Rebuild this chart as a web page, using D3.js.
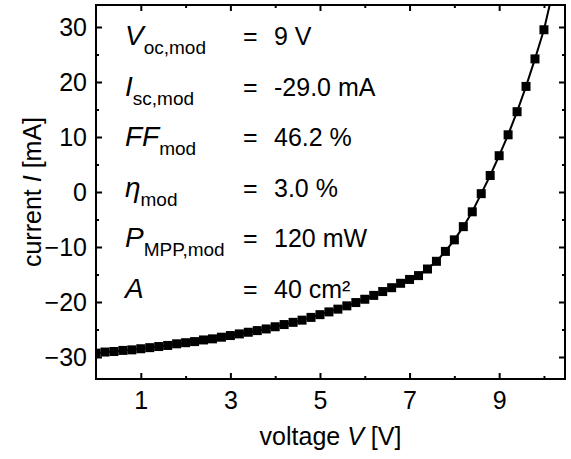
<!DOCTYPE html>
<html>
<head>
<meta charset="utf-8">
<script src="https://cdn.jsdelivr.net/npm/d3@7"></script>
<style>
  body { margin: 0; background: #fff; }
  text { font-family: "Liberation Sans", Arial, Helvetica, sans-serif; fill: #000; }
</style>
</head>
<body>
<div id="chart-area"></div>
<script>
// Data
var voltage = [0.0, 0.2, 0.4, 0.6, 0.8, 1.0, 1.2, 1.4, 1.6, 1.8,
               2.0, 2.2, 2.4, 2.6, 2.8, 3.0, 3.2, 3.4, 3.6, 3.8,
               4.0, 4.2, 4.4, 4.6, 4.8, 5.0, 5.2, 5.4, 5.6, 5.8,
               6.0, 6.2, 6.4, 6.6, 6.8, 7.0, 7.2, 7.4, 7.6, 7.8,
               8.0, 8.2, 8.4, 8.6, 8.8, 9.0, 9.2, 9.4, 9.6, 9.8, 10.0];
var current = [-29.3, -29.1, -29.0, -28.8, -28.7, -28.5, -28.3, -28.1, -27.9, -27.6,
               -27.4, -27.2, -26.9, -26.7, -26.4, -26.1, -25.8, -25.5, -25.2, -24.9,
               -24.5, -24.1, -23.7, -23.3, -22.8, -22.3, -21.8, -21.3, -20.7, -20.1,
               -19.5, -18.8, -18.1, -17.4, -16.6, -15.9, -15.2, -14.0, -12.6, -10.8,
               -8.7, -6.3, -3.6, -0.3, 3.0, 6.6, 10.4, 14.6, 19.2, 24.2, 29.5];
// fitted line continues past the last point, out of the frame
var fitTailV = [10.2];
var fitTailI = [36.5];

var xMajor = [1, 3, 5, 7, 9];
var xMinor = [2, 4, 6, 8, 10];
var yMajor = [-30, -20, -10, 0, 10, 20, 30];
var yMinor = [-25, -15, -5, 5, 15, 25];

var paramSymbols = ["V", "I", "FF", "\u03B7", "P", "A"];
var paramSubs = ["oc,mod", "sc,mod", "mod", "mod", "MPP,mod", ""];
var paramValues = ["9 V", "-29.0 mA", "46.2 %", "3.0 %", "120 mW", "40 cm\u00B2"];

var margin = {top: 5, right: 6, bottom: 80, left: 96},
    width = 571 - margin.left - margin.right,
    height = 459 - margin.top - margin.bottom;

var svg = d3.select("#chart-area").append("svg")
    .attr("width", width + margin.left + margin.right)
    .attr("height", height + margin.top + margin.bottom);

var g = svg.append("g")
    .attr("transform", "translate(" + margin.left + "," + margin.top + ")");

// Scales
var x = d3.scaleLinear().domain([0, 10.47]).range([0, width]);
var y = d3.scaleLinear().domain([-34, 34]).range([height, 0]);

g.append("clipPath").attr("id", "plot-clip")
    .append("rect").attr("width", width).attr("height", height);

// Axes (ticks point inward, mirrored on top/right)
function styleAxis(sel) {
    sel.select(".domain").remove();
    sel.selectAll("line").attr("stroke", "#000").attr("stroke-width", 2);
    sel.selectAll("text").attr("font-size", 25).attr("fill", "#000")
        .attr("font-family", "'Liberation Sans', Arial, sans-serif");
}

g.append("g").attr("transform", "translate(0," + height + ")")
    .call(d3.axisBottom(x).tickValues(xMajor).tickSizeInner(-6).tickPadding(12).tickFormat(d3.format("d")))
    .call(styleAxis);
g.append("g").attr("transform", "translate(0," + height + ")")
    .call(d3.axisBottom(x).tickValues(xMinor).tickSizeInner(-3).tickFormat(""))
    .call(styleAxis);
g.append("g")
    .call(d3.axisTop(x).tickValues(xMajor).tickSizeInner(-6).tickFormat(""))
    .call(styleAxis);
g.append("g")
    .call(d3.axisTop(x).tickValues(xMinor).tickSizeInner(-3).tickFormat(""))
    .call(styleAxis);

g.append("g")
    .call(d3.axisLeft(y).tickValues(yMajor).tickSizeInner(-6).tickPadding(9).tickFormat(d3.format("d")))
    .call(styleAxis);
g.append("g")
    .call(d3.axisLeft(y).tickValues(yMinor).tickSizeInner(-3).tickFormat(""))
    .call(styleAxis);
g.append("g").attr("transform", "translate(" + width + ",0)")
    .call(d3.axisRight(y).tickValues(yMajor).tickSizeInner(-6).tickFormat(""))
    .call(styleAxis);
g.append("g").attr("transform", "translate(" + width + ",0)")
    .call(d3.axisRight(y).tickValues(yMinor).tickSizeInner(-3).tickFormat(""))
    .call(styleAxis);

// Curve + markers
var points = voltage.map(function(v, i){ return {v: v, i: current[i]}; });
var fitPoints = points.concat(fitTailV.map(function(v, k){ return {v: v, i: fitTailI[k]}; }));

var line = d3.line()
    .x(function(d){ return x(d.v); })
    .y(function(d){ return y(d.i); });

var plot = g.append("g").attr("clip-path", "url(#plot-clip)");

plot.append("path")
    .datum(fitPoints)
    .attr("fill", "none")
    .attr("stroke", "#000")
    .attr("stroke-width", 2)
    .attr("d", line);

var ms = 9;
plot.selectAll(".marker")
    .data(points)
    .enter()
    .append("rect")
    .attr("class", "marker")
    .attr("x", function(d){ return x(d.v) - ms / 2; })
    .attr("y", function(d){ return y(d.i) - ms / 2; })
    .attr("width", ms)
    .attr("height", ms)
    .attr("fill", "#000");

// Frame
g.append("rect")
    .attr("width", width)
    .attr("height", height)
    .attr("fill", "none")
    .attr("stroke", "#000")
    .attr("stroke-width", 2);

// Axis titles
var yTitle = svg.append("text")
    .attr("transform", "translate(41," + (margin.top + height / 2) + ") rotate(-90)")
    .attr("text-anchor", "middle")
    .attr("font-size", 25);
yTitle.append("tspan").text("current ");
yTitle.append("tspan").attr("font-style", "italic").text("I");
yTitle.append("tspan").text(" [mA]");

var xTitle = svg.append("text")
    .attr("x", margin.left + width / 2)
    .attr("y", 445)
    .attr("text-anchor", "middle")
    .attr("font-size", 25);
xTitle.append("tspan").text("voltage ");
xTitle.append("tspan").attr("font-style", "italic").text("V");
xTitle.append("tspan").text(" [V]");

// Parameter table
var rowY = d3.scaleLinear().domain([0, 1]).range([45, 95.5]);

var rows = svg.selectAll(".param-row")
    .data(paramSymbols)
    .enter()
    .append("g")
    .attr("class", "param-row")
    .attr("transform", function(d, i){ return "translate(0," + rowY(i) + ")"; });

var sym = rows.append("text")
    .attr("x", 125)
    .attr("y", 0);
sym.append("tspan")
    .attr("font-size", 28)
    .attr("font-style", "italic")
    .text(function(d){ return d; });
sym.append("tspan")
    .attr("font-size", 19)
    .attr("dx", 0)
    .attr("dy", 9)
    .text(function(d, i){ return paramSubs[i]; });

rows.append("text")
    .attr("x", 243)
    .attr("y", 0)
    .attr("font-size", 25)
    .text("=");

rows.append("text")
    .attr("x", 274)
    .attr("y", 0)
    .attr("font-size", 25)
    .text(function(d, i){ return paramValues[i]; });
</script>
</body>
</html>
